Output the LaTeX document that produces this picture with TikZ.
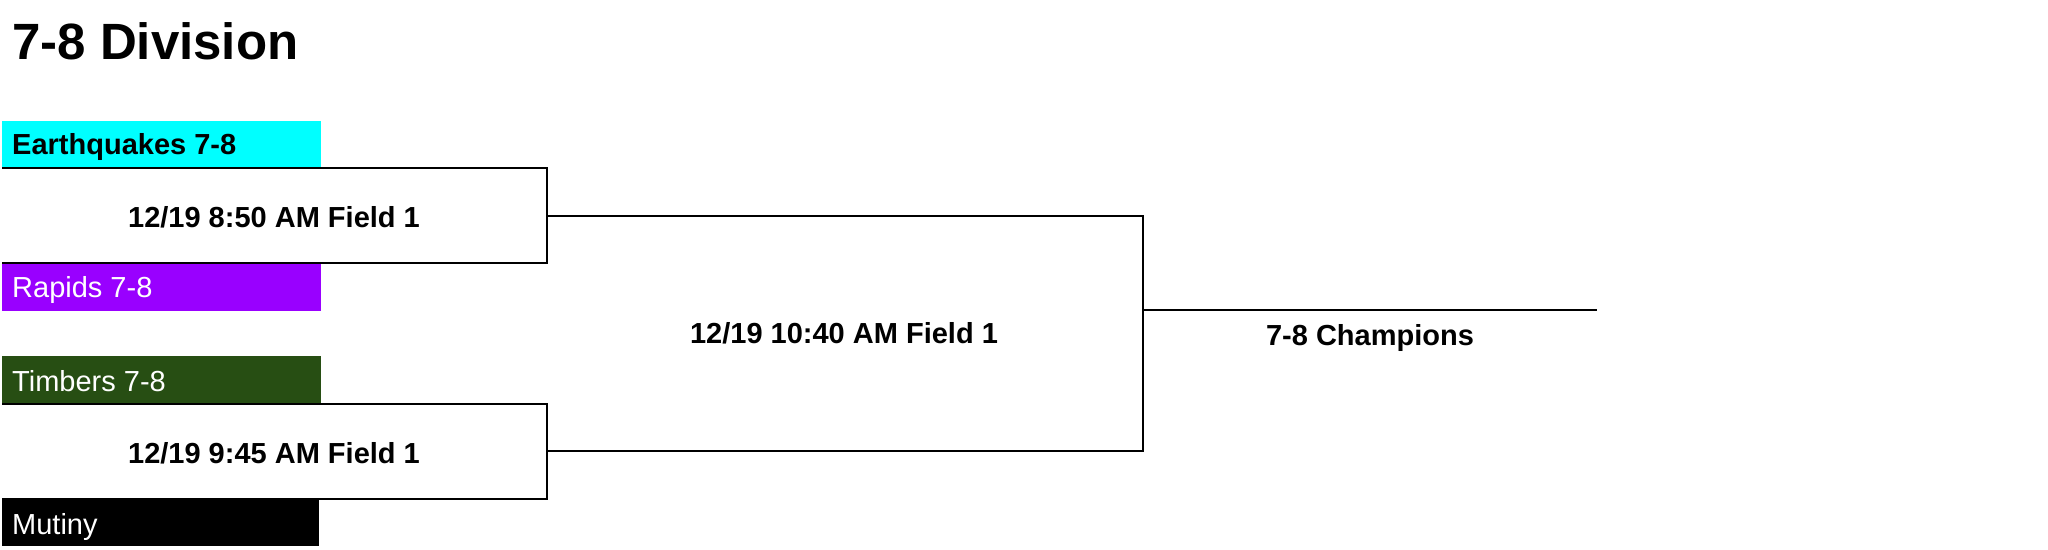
\documentclass[tikz,border=0pt]{standalone}
\usepackage{fontspec}
\setmainfont{Liberation Sans}
\definecolor{eqcol}{HTML}{00FFFF}
\definecolor{rapcol}{HTML}{9900FF}
\definecolor{timcol}{HTML}{274E13}
\begin{document}
\begin{tikzpicture}[x=1pt,y=-1pt,
  teambox/.style={anchor=north west, minimum width=319pt, minimum height=47pt, inner sep=0pt, outer sep=0pt, draw=none},
  teamtext/.style={anchor=base west, inner sep=0pt, font=\fontsize{29}{34}\selectfont},
  gametext/.style={anchor=base, inner sep=0pt, font=\fontsize{29}{34}\selectfont\bfseries},
  bline/.style={line width=2pt, draw=black}]
\fill[white] (0,0) rectangle (2048,549);
\useasboundingbox (0,0) rectangle (2048,549);

\node[anchor=base west, inner sep=0pt, font=\fontsize{51}{60}\selectfont\bfseries] (title) at (12,59) {7-8 Division};

% team boxes
\node[teambox, fill=eqcol] (eqbox) at (2,121) {};
\node[teambox, fill=rapcol] (rapbox) at (2,264) {};
\node[teambox, fill=timcol] (timbox) at (2,356) {};
\node[teambox, fill=black, minimum width=317pt] (mutbox) at (2,499) {};

\node[teamtext, font=\fontsize{29}{34}\selectfont\bfseries, text=black] (eq) at (12,154) {Earthquakes 7-8};
\node[teamtext, text=white] (rap) at (12,297) {Rapids 7-8};
\node[teamtext, text=white] (tim) at (12,391) {Timbers 7-8};
\node[teamtext, text=white] (mut) at (12,534) {Mutiny};

% match boxes
\coordinate (m1tl) at (2,168);
\coordinate (m1tr) at (547,168);
\coordinate (m1br) at (547,263);
\coordinate (m1bl) at (2,263);
\coordinate (m1out) at (547,216);
\draw[bline] (m1tl) -- (m1tr) -- (m1br) -- (m1bl);
\node[gametext] (g1) at (274,227) {12/19 8:50 AM Field 1};

\coordinate (m2tl) at (2,404);
\coordinate (m2tr) at (547,404);
\coordinate (m2br) at (547,499);
\coordinate (m2bl) at (2,499);
\coordinate (m2out) at (547,451);
\draw[bline] (m2tl) -- (m2tr) -- (m2br) -- (m2bl);
\node[gametext] (g2) at (274,463) {12/19 9:45 AM Field 1};

% final
\coordinate (f1) at (1143,216);
\coordinate (f2) at (1143,451);
\coordinate (fout) at (1143,310);
\coordinate (champend) at (1597,310);
\draw[bline] (m1out) -- (f1) -- (f2) -- (m2out);
\draw[bline] (fout) -- (champend);
\node[gametext] (g3) at (844,343) {12/19 10:40 AM Field 1};
\node[gametext] (champ) at (1370,345) {7-8 Champions};
\end{tikzpicture}
\end{document}
